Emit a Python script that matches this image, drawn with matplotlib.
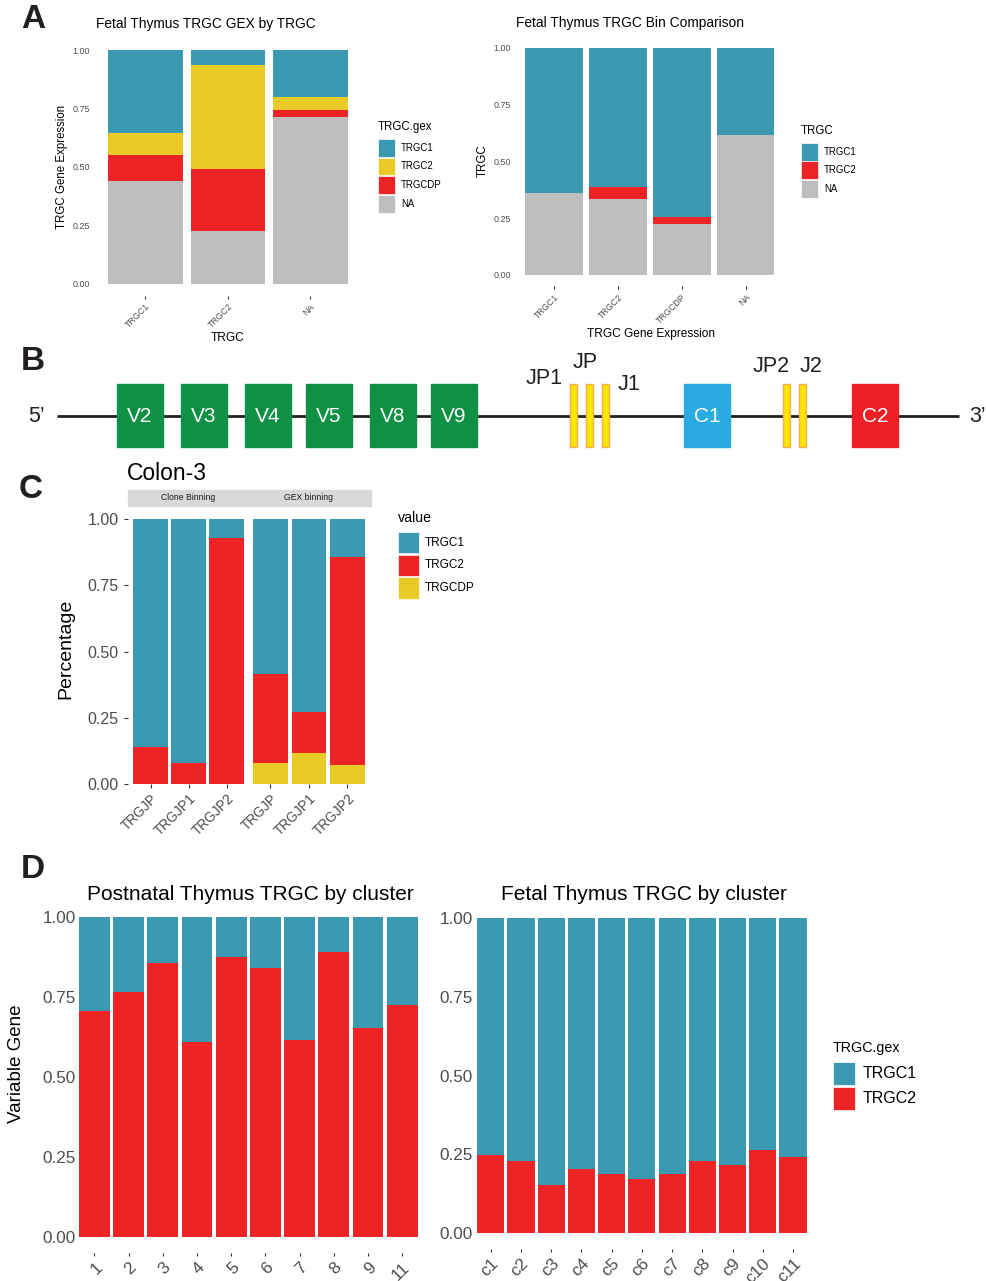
import matplotlib
matplotlib.use("Agg")
import matplotlib.pyplot as plt
from matplotlib.patches import Rectangle

plt.rcParams['font.family'] = ['Liberation Sans', 'DejaVu Sans']

# colours used throughout
BLUE = '#3B9AB2'
YELLOW = '#E9CA27'
RED = '#EE2326'
GREY = '#BEBEBE'
GREEN = '#0E9145'
SKY = '#29ABE2'
TICK = '#4D4D4D'

# ---------------- data ----------------
# A left: share of TRGC.gex inside each TRGC bin
gex_bins = ['TRGC1', 'TRGC2', 'NA']
gex_na = [0.440, 0.226, 0.714]
gex_trgcdp = [0.111, 0.265, 0.030]
gex_trgc2 = [0.094, 0.445, 0.055]
gex_trgc1 = [0.355, 0.064, 0.201]

# A right: share of TRGC inside each gene expression bin
bin_cats = ['TRGC1', 'TRGC2', 'TRGCDP', 'NA']
bin_na = [0.362, 0.334, 0.224, 0.616]
bin_trgc2 = [0.000, 0.053, 0.031, 0.000]
bin_trgc1 = [0.638, 0.613, 0.745, 0.384]

# B: TRG locus schematic (positions along the drawn locus)
v_genes = ['V2', 'V3', 'V4', 'V5', 'V8', 'V9']
v_pos = [140, 204, 268, 329, 393, 454]
j_genes = ['JP1', 'JP', 'J1', 'JP2', 'J2']
j_pos = [573.5, 589.5, 605, 786.5, 802]
c_genes = ['C1', 'C2']
c_pos = [707, 875]

# C: Colon-3
jp_cats = ['TRGJP', 'TRGJP1', 'TRGJP2']
clone_trgcdp = [0.000, 0.000, 0.000]
clone_trgc2 = [0.140, 0.081, 0.929]
clone_trgc1 = [0.860, 0.919, 0.071]
gexbin_trgcdp = [0.079, 0.117, 0.072]
gexbin_trgc2 = [0.337, 0.155, 0.786]
gexbin_trgc1 = [0.584, 0.728, 0.142]

# D: by cluster
post_clusters = ['1', '2', '3', '4', '5', '6', '7', '8', '9', '11']
post_trgc2 = [0.705, 0.765, 0.855, 0.608, 0.874, 0.840, 0.615, 0.891, 0.652, 0.724]
post_trgc1 = [0.295, 0.235, 0.145, 0.392, 0.126, 0.160, 0.385, 0.109, 0.348, 0.276]
fetal_clusters = ['c1', 'c2', 'c3', 'c4', 'c5', 'c6', 'c7', 'c8', 'c9', 'c10', 'c11']
fetal_trgc2 = [0.248, 0.229, 0.153, 0.204, 0.188, 0.172, 0.188, 0.229, 0.216, 0.264, 0.242]
fetal_trgc1 = [0.752, 0.771, 0.847, 0.796, 0.812, 0.828, 0.812, 0.771, 0.784, 0.736, 0.758]

# ---------------- helpers ----------------
W, H = 987, 1281
fig = plt.figure(figsize=(W / 100, H / 100), dpi=100)


def fx(x):
    return x / W


def fy(y):
    return 1 - y / H


def text(x, y, s, **kw):
    kw.setdefault('ha', 'left')
    kw.setdefault('va', 'center')
    fig.text(fx(x), fy(y), s, **kw)


def bar_axes(xc0, xc1, n, y0, y1, xpad=0.6, ypad=(0.05, 0.05)):
    """axes placed so that bar centres / 0 / 1 land on the given pixels"""
    step = (xc1 - xc0) / (n - 1)
    span = y0 - y1
    left, right = xc0 - xpad * step, xc1 + xpad * step
    top, bottom = y1 - ypad[1] * span, y0 + ypad[0] * span
    ax = fig.add_axes([fx(left), fy(bottom), (right - left) / W, (bottom - top) / H])
    ax.set_xlim(-xpad, n - 1 + xpad)
    ax.set_ylim(-ypad[0], 1 + ypad[1])
    for s in ax.spines.values():
        s.set_visible(False)
    ax.patch.set_visible(False)
    return ax


def stack(ax, cats, series, colors):
    x = list(range(len(cats)))
    bottom = [0.0] * len(cats)
    for vals, c in zip(series, colors):
        ax.bar(x, vals, bottom=bottom, width=0.9, color=c, linewidth=0)
        bottom = [b + v for b, v in zip(bottom, vals)]


def ticks(ax, cats, xsize, ysize, ylen=0, ypad=3, xpad=2, xlen=2, show_y=True):
    ax.set_xticks(range(len(cats)))
    ax.set_xticklabels(cats, rotation=45, ha='right', va='top', rotation_mode='anchor')
    ax.tick_params(axis='x', length=xlen, width=0.8, color='#333333',
                   labelsize=xsize, labelcolor=TICK, pad=xpad)
    if show_y:
        ax.set_yticks([0, 0.25, 0.5, 0.75, 1])
        ax.set_yticklabels(['0.00', '0.25', '0.50', '0.75', '1.00'])
        ax.tick_params(axis='y', length=ylen, width=0.8, color='#333333',
                       labelsize=ysize, labelcolor=TICK, pad=ypad)
    else:
        ax.set_yticks([])


def legend(x, y_title, title, labels, colors, y_first, kw, kh, step, tsize, lsize, gap=6):
    text(x, y_title, title, fontsize=tsize)
    for i, (lab, c) in enumerate(zip(labels, colors)):
        top = y_first + i * step
        fig.patches.append(Rectangle((fx(x), fy(top + kh)), kw / W, kh / H,
                                     transform=fig.transFigure, facecolor=c,
                                     edgecolor='white', linewidth=0.5))
        text(x + kw + gap, top + kh / 2, lab, fontsize=lsize)


# ---------------- panel A left ----------------
ax = bar_axes(145.5, 310.5, 3, 284, 50)
stack(ax, gex_bins, [gex_na, gex_trgcdp, gex_trgc2, gex_trgc1], [GREY, RED, YELLOW, BLUE])
ticks(ax, gex_bins, 6.4, 6.4, ypad=4.3, xpad=2.5)
text(96, 24, 'Fetal Thymus TRGC GEX by TRGC', fontsize=9.9)
text(62, 167, 'TRGC Gene Expression', fontsize=8.3, rotation=90, ha='center')
text(228, 338, 'TRGC', fontsize=8.6, ha='center')
legend(378, 127, 'TRGC.gex', ['TRGC1', 'TRGC2', 'TRGCDP', 'NA'],
       [BLUE, YELLOW, RED, GREY], 139, 17, 17.5, 18.7, 8.3, 6.9)

# ---------------- panel A right ----------------
ax = bar_axes(554.2, 745.7, 4, 275, 47.7)
stack(ax, bin_cats, [bin_na, bin_trgc2, bin_trgc1], [GREY, RED, BLUE])
ticks(ax, bin_cats, 6.4, 6.4, ypad=3.4, xpad=2.5)
text(516, 23, 'Fetal Thymus TRGC Bin Comparison', fontsize=9.9)
text(483, 161, 'TRGC', fontsize=8.3, rotation=90, ha='center')
text(651, 334, 'TRGC Gene Expression', fontsize=8.6, ha='center')
legend(801, 131, 'TRGC', ['TRGC1', 'TRGC2', 'NA'], [BLUE, RED, GREY],
       143, 17, 17.5, 18.5, 8.3, 6.9)

# ---------------- panel B ----------------
ax = fig.add_axes([0, fy(462), 1, (462 - 343) / H])
ax.set_xlim(0, W)
ax.set_ylim(462, 343)
ax.axis('off')
ax.plot([57, 959], [416, 416], color='#231F20', lw=2.0, solid_capstyle='butt', zorder=1)
for name, p in zip(v_genes, v_pos):
    ax.add_patch(Rectangle((p - 23, 384), 46, 63, color=GREEN, zorder=2))
    ax.text(p, 416, name, color='white', fontsize=15, ha='center', va='center', zorder=3)
for p in j_pos:
    ax.add_patch(Rectangle((p - 3.5, 384), 7, 63, facecolor='#FFE600',
                           edgecolor='#F7AE4A', lw=1.0, zorder=2))
j_label_xy = [(544, 378), (585.5, 362), (629, 384), (771.5, 367), (811.5, 367)]
for name, (lx, ly) in zip(j_genes, j_label_xy):
    ax.text(lx, ly, name, fontsize=15.5, color='#231F20', ha='center', va='center')
for name, p, col in zip(c_genes, c_pos, [SKY, '#EE1F24']):
    ax.add_patch(Rectangle((p - 23, 384), 46, 63, color=col, zorder=2))
    ax.text(p, 416, name, color='white', fontsize=15, ha='center', va='center', zorder=3)
ax.text(36, 416, '5\u2019', fontsize=15.5, ha='center', va='center', color='#231F20')
ax.text(978, 416, '3\u2019', fontsize=15.5, ha='center', va='center', color='#231F20')

# ---------------- panel C ----------------
facets = [('Clone Binning', 150.5, 226.5, [clone_trgcdp, clone_trgc2, clone_trgc1]),
          ('GEX binning', 270.5, 347.5, [gexbin_trgcdp, gexbin_trgc2, gexbin_trgc1])]
for i, (label, c0, c1, series) in enumerate(facets):
    ax = bar_axes(c0, c1, 3, 784, 519.3, ypad=(0.0, 0.05))
    stack(ax, jp_cats, series, [YELLOW, RED, BLUE])
    ticks(ax, jp_cats, 9.8, 11.5, ylen=3, ypad=3.5, xpad=2.5, xlen=3, show_y=(i == 0))
    pos = ax.get_position()
    fig.patches.append(Rectangle((pos.x0, fy(506)), pos.width, 16 / H,
                                 transform=fig.transFigure, color='#D9D9D9', zorder=0))
    text((pos.x0 + pos.width / 2) * W, 498, label, fontsize=6.2, ha='center', color='#1A1A1A')
text(127, 474, 'Colon-3', fontsize=16.5)
text(66, 649, 'Percentage', fontsize=14, rotation=90, ha='center')
legend(398, 518, 'value', ['TRGC1', 'TRGC2', 'TRGCDP'], [BLUE, RED, YELLOW],
       532, 21, 21.5, 22.5, 10.2, 8.5)

# ---------------- panel D left ----------------
ax = bar_axes(94.5, 402.2, len(post_clusters), 1236.7, 916.7, xpad=0.5)
stack(ax, post_clusters, [post_trgc2, post_trgc1], [RED, BLUE])
ticks(ax, post_clusters, 12.3, 12.3, ypad=1.0, xpad=2.5, xlen=2.5)
text(250, 895, 'Postnatal Thymus TRGC by cluster', fontsize=15)
fig.texts[-1].set_ha('center')
text(17, 1064, 'Variable Gene', fontsize=13.5, rotation=90, ha='center')

# ---------------- panel D right ----------------
ax = bar_axes(490.8, 793, len(fetal_clusters), 1233.3, 917.7, xpad=0.5)
stack(ax, fetal_clusters, [fetal_trgc2, fetal_trgc1], [RED, BLUE])
ticks(ax, fetal_clusters, 12.3, 12.3, ypad=2.0, xpad=2.5, xlen=2.5)
text(644, 895, 'Fetal Thymus TRGC by cluster', fontsize=15, ha='center')
legend(833, 1048, 'TRGC.gex', ['TRGC1', 'TRGC2'], [BLUE, RED],
       1062, 22, 23, 25, 10.3, 11.5, gap=8)

# ---------------- panel letters ----------------
for letter, (lx, ly) in zip('ABCD', [(33, 20), (33, 361), (31, 490), (33, 870)]):
    text(lx, ly, letter, fontsize=24, fontweight='bold', ha='center', color='#231F20')

fig.savefig('out.png', dpi=100)
